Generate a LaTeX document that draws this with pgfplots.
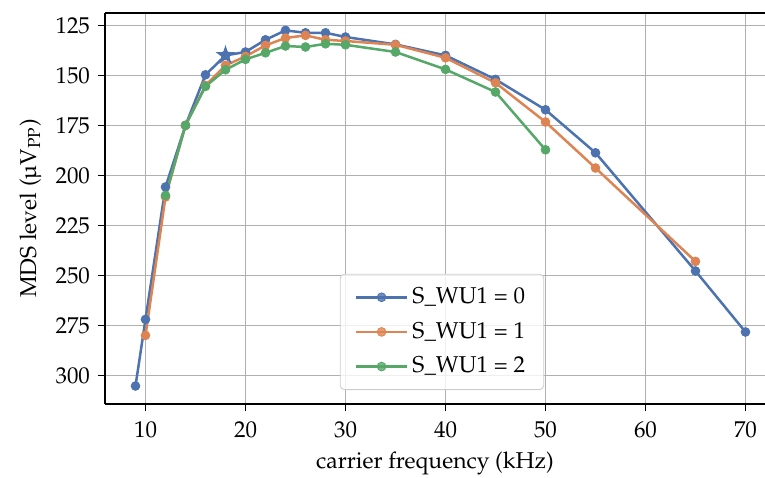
\documentclass[border=0pt]{standalone}
\usepackage[T1]{fontenc}
\usepackage{mathpazo}
\usepackage{pgfplots}
\pgfplotsset{compat=1.18}
\definecolor{c0}{HTML}{4C72B0}
\definecolor{c1}{HTML}{DD8452}
\definecolor{c2}{HTML}{55A868}
\definecolor{gridc}{HTML}{B0B0B0}
\pgfdeclareplotmark{fstar}{%
  \pgfpathmoveto{\pgfpointpolar{90}{\pgfplotmarksize}}%
  \pgfpathlineto{\pgfpointpolar{126}{0.382\pgfplotmarksize}}%
  \pgfpathlineto{\pgfpointpolar{162}{\pgfplotmarksize}}%
  \pgfpathlineto{\pgfpointpolar{198}{0.382\pgfplotmarksize}}%
  \pgfpathlineto{\pgfpointpolar{234}{\pgfplotmarksize}}%
  \pgfpathlineto{\pgfpointpolar{270}{0.382\pgfplotmarksize}}%
  \pgfpathlineto{\pgfpointpolar{306}{\pgfplotmarksize}}%
  \pgfpathlineto{\pgfpointpolar{342}{0.382\pgfplotmarksize}}%
  \pgfpathlineto{\pgfpointpolar{18}{\pgfplotmarksize}}%
  \pgfpathlineto{\pgfpointpolar{54}{0.382\pgfplotmarksize}}%
  \pgfpathclose
  \pgfusepathqfill
}
\begin{document}
\begin{tikzpicture}
\useasboundingbox (-50.4pt,-35.52pt) rectangle (316.8pt,193.92pt);
\begin{axis}[
  at={(0,0)}, anchor=south west,
  scale only axis, width=316.8pt, height=187.68pt,
  xmin=5.95, xmax=71.95, ymin=118.8, ymax=314.3, y dir=reverse,
  axis x line*=box, axis y line*=left,
  xtick={10,20,...,70}, ytick={125,150,...,300},
  xtick pos=lower, ytick pos=left, tick align=outside,
  major tick length=3.4pt,
  every tick/.style={black, line width=0.8pt},
  axis line style={line width=1.1pt, black},
  grid=major, major grid style={gridc, line width=0.8pt},
  tick label style={font=\fontsize{11}{13.2}\selectfont},
  xticklabel style={yshift=-1.5pt},
  yticklabel style={xshift=-0.3pt},
  label style={font=\fontsize{11}{13.2}\selectfont},
  xlabel={carrier frequency (kHz)},
  ylabel={MDS level (\textmu V\textsubscript{PP})},
  legend style={at={(0.5106,0.0358)}, anchor=south, draw=black!20, rounded corners=2pt,
    fill=white, fill opacity=0.8, text opacity=1, draw opacity=1, row sep=3.5pt,
    inner xsep=7pt, inner ysep=4.5pt, font=\fontsize{11}{13.2}\selectfont},
  legend cell align=left,
  legend image code/.code={\draw[mark repeat=2,mark phase=2] plot coordinates {(0cm,0cm)(0.43cm,0cm)(0.86cm,0cm)};},
]
\addplot[c0, line width=1.2pt, mark=*, mark size=2.1pt, mark options={solid, fill=c0, draw=c0, line width=0.4pt}] coordinates {
(9,305.3)(10,272)(12,205.8)(14,175)(16,149.7)(18,140)(20,138.3)(22,132.2)(24,127.5)(26,128.7)(28,128.7)(30,130.8)(35,134.5)(40,140)(45,152)(50,167.2)(55,188.7)(65,247.8)(70,278.3)};
\addlegendentry{S\_WU1 = 0}
\addplot[c0, only marks, mark=fstar, mark size=5pt, mark options={solid, fill=c0}, forget plot] coordinates {(18,140)};
\addplot[c1, line width=1.2pt, mark=*, mark size=2.1pt, mark options={solid, fill=c1, draw=c1, line width=0.4pt}] coordinates {
(10,280)(12,210.8)(14,175)(16,155)(18,145)(20,140.5)(22,135)(24,131.3)(26,130)(28,132.2)(30,132.8)(35,134.7)(40,141.2)(45,153.7)(50,173.3)(55,196.3)(65,243)};
\addlegendentry{S\_WU1 = 1}
\addplot[c2, line width=1.2pt, mark=*, mark size=2.1pt, mark options={solid, fill=c2, draw=c2, line width=0.4pt}] coordinates {
(12,210)(14,175)(16,155.5)(18,147.2)(20,142)(22,138.7)(24,135.3)(26,135.8)(28,134.2)(30,134.7)(35,138.3)(40,147)(45,158.3)(50,187.2)};
\addlegendentry{S\_WU1 = 2}
\end{axis}
\end{tikzpicture}
\end{document}
